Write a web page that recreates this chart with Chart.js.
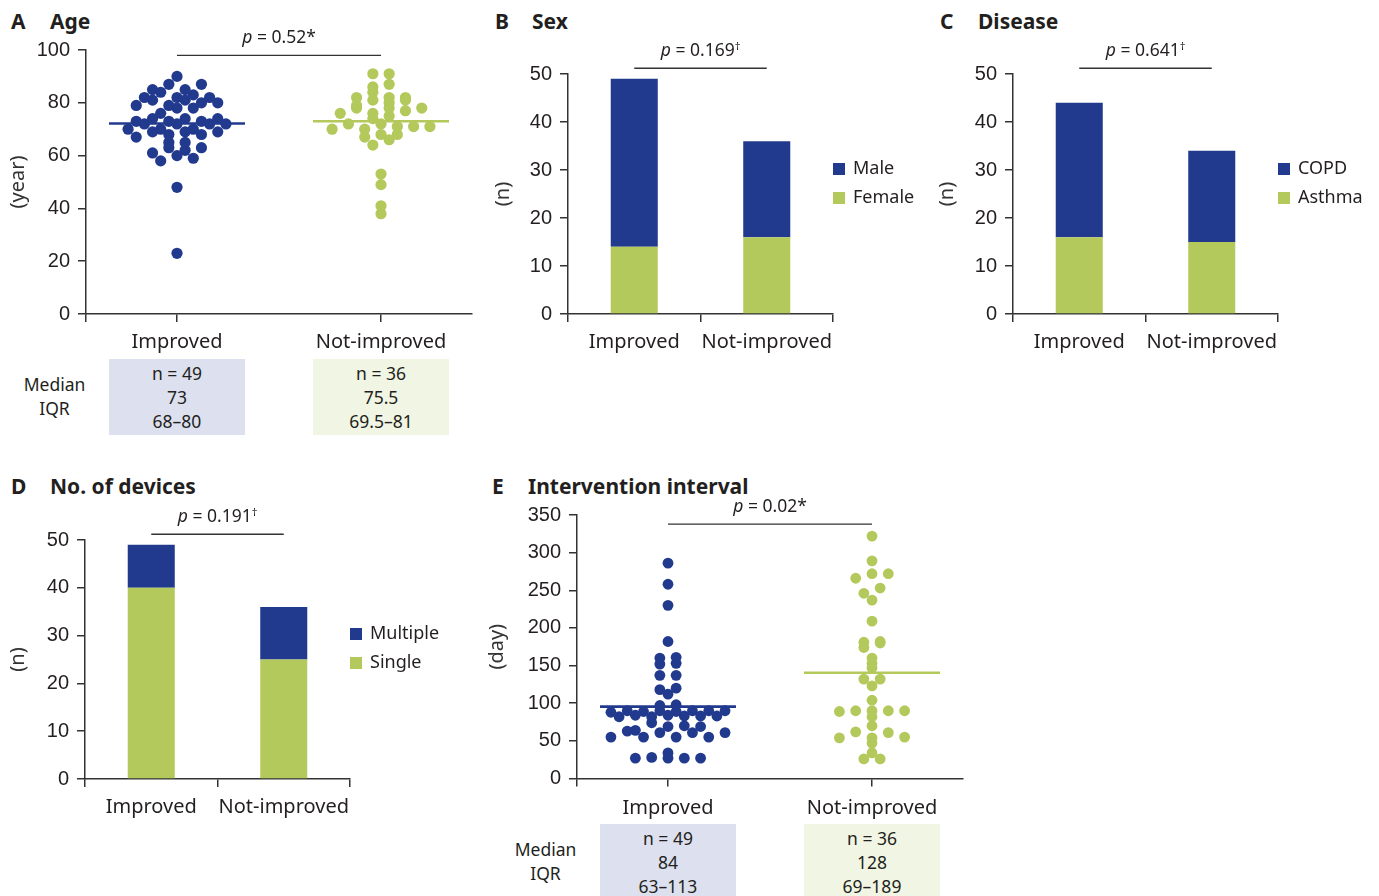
<!DOCTYPE html>
<html>
<head>
<meta charset="utf-8">
<script src="https://cdn.jsdelivr.net/npm/chart.js@4.4.1/dist/chart.umd.min.js"></script>
<style>
  html, body { margin: 0; padding: 0; background: #fff; }
  body { width: 1379px; height: 896px; overflow: hidden; position: relative; font-family: 'Noto Sans', sans-serif; color: #231f20; }
  canvas { position: absolute; }
  .title { position: absolute; font-weight: 700; font-size: 21px; line-height: 24px; white-space: nowrap; }
  .pval { position: absolute; font-size: 17.5px; line-height: 22px; white-space: nowrap; transform: translate(-50%, -50%); color: #231f20; }
  .pval sup { font-size: 11px; vertical-align: 6px; line-height: 0; }
  .legend { position: absolute; font-size: 18px; line-height: 29px; white-space: nowrap; }
  .legend .sw { display: inline-block; width: 12px; height: 12px; margin-right: 8px; vertical-align: -1px; }
  .box { position: absolute; text-align: center; font-size: 17.5px; line-height: 24px; padding-top: 2px; box-sizing: border-box; }
  .rowlab { position: absolute; text-align: center; font-size: 17.5px; line-height: 24px; transform: translateX(-50%); }
</style>
</head>
<body>

<div class="title" style="left:11px;top:9px">A</div><div class="title" style="left:50px;top:9px">Age</div>
<div class="title" style="left:495px;top:9px">B</div><div class="title" style="left:532px;top:9px">Sex</div>
<div class="title" style="left:940px;top:9px">C</div><div class="title" style="left:978px;top:9px">Disease</div>
<div class="title" style="left:11px;top:474px">D</div><div class="title" style="left:50px;top:474px">No. of devices</div>
<div class="title" style="left:492px;top:474px">E</div><div class="title" style="left:528px;top:474px">Intervention interval</div>

<canvas id="cA" width="490" height="330" style="left:0;top:30px"></canvas>
<canvas id="cB" width="470" height="330" style="left:480px;top:30px"></canvas>
<canvas id="cC" width="454" height="330" style="left:925px;top:30px"></canvas>
<canvas id="cD" width="470" height="330" style="left:0;top:495px"></canvas>
<canvas id="cE" width="500" height="330" style="left:480px;top:495px"></canvas>

<script>
// ---- data ----
const groupLabels = ['Improved', 'Not-improved'];

// Age (years), one value per patient
const ageImproved = [85, 81, 73, 69, 63, 78, 83, 80, 73, 70, 68, 62, 76, 90, 82, 79, 72, 69, 65, 60,
  74, 87, 79, 72, 65, 58, 48, 23, 82, 74, 70, 87, 80, 72, 67, 59, 84, 74, 70, 81, 72, 68, 61,
  85, 78, 82, 73, 69, 63];
const ageNotImproved = [91, 91, 87, 86, 84, 81, 82, 82, 82, 81, 80, 78, 78, 79, 77, 76, 76, 78,
  74, 75, 72, 71, 71, 71, 72, 70, 70, 68, 67, 68, 66, 64, 53, 49, 41, 38];

// Intervention interval (days), one value per patient
const intervalImproved = [286, 258, 230, 182, 161, 152, 160, 153, 137, 137, 118, 120, 112, 98, 97,
  90, 89, 90, 88, 90, 89, 90, 90, 83, 84, 82, 83, 84, 83, 82,
  70, 61, 69, 55, 64, 55, 55, 63, 55, 69, 61, 74, 61, 28, 27, 27, 27, 27, 34];
const intervalNotImproved = [322, 289, 272, 272, 266, 253, 246, 237, 209, 182, 181, 180, 174, 160,
  153, 147, 132, 132, 123, 104, 90, 90, 89, 90, 90, 82, 70, 62, 54, 54, 55, 61, 47, 34, 26, 26];

// Counts per group [Improved, Not-improved]
const sexMale = [35, 20];
const sexFemale = [14, 16];
const diseaseCOPD = [28, 19];
const diseaseAsthma = [16, 15];
const devicesMultiple = [9, 11];
const devicesSingle = [40, 25];

// Axis ticks
const ageTicks = [0, 20, 40, 60, 80, 100];
const countTicks = [0, 10, 20, 30, 40, 50];
const intervalTicks = [0, 50, 100, 150, 200, 250, 300, 350];

// Summary tables
const ageN = ['n = 49', 'n = 36'];
const ageMedian = ['73', '75.5'];
const ageIQR = ['68–80', '69.5–81'];
const intervalN = ['n = 49', 'n = 36'];
const intervalMedian = ['84', '128'];
const intervalIQR = ['63–113', '69–189'];

// p-values
const pAge = ['0.52', '*'];
const pSex = ['0.169', '†'];
const pDisease = ['0.641', '†'];
const pDevices = ['0.191', '†'];
const pInterval = ['0.02', '*'];

// ---- styling ----
const BLUE = '#223a8e';
const GREEN = '#b4c95c';
const INK = '#231f20';
const AXIS = '#333333';
const TICK_FONT = "'Liberation Sans', Arial, sans-serif";

const bracketPlugin = {
  id: 'bracket',
  afterDatasetsDraw(chart, args, opts) {
    const { ctx, scales: { x, y } } = chart;
    const x0 = x.getPixelForValue(opts.from);
    const x1 = x.getPixelForValue(opts.to);
    const yy = y.getPixelForValue(opts.at);
    ctx.save();
    ctx.strokeStyle = AXIS;
    ctx.lineWidth = 1.3;
    ctx.beginPath();
    ctx.moveTo(x0, yy);
    ctx.lineTo(x1, yy);
    ctx.stroke();
    ctx.restore();
  }
};

function yAxis(ticks, title, titlePad, width) {
  return {
    min: ticks[0], max: ticks[ticks.length - 1],
    afterBuildTicks: a => { a.ticks = ticks.map(v => ({ value: v })); },
    afterFit: a => { a.width = width; },
    border: { color: AXIS, width: 1.5 },
    grid: { drawOnChartArea: false, drawTicks: true, tickLength: 8, lineWidth: 1.5, color: AXIS },
    ticks: { color: INK, font: { family: TICK_FONT, size: 20 }, padding: 8 },
    title: { display: true, text: title, color: '#333', font: { family: 'Noto Sans', size: 20 }, padding: { top: titlePad, bottom: 0 } }
  };
}

function xLabelTicks(pad) {
  return { color: INK, font: { family: 'Noto Sans', size: 20 }, padding: pad, maxRotation: 0, autoSkip: false };
}

function baseOptions(padding) {
  return {
    responsive: false, animation: false, devicePixelRatio: 1,
    layout: { padding },
    plugins: { legend: { display: false }, tooltip: { enabled: false } },
    events: []
  };
}

function pLabel(chart, canvasLeft, canvasTop, p) {
  const o = chart.options.plugins.bracket;
  const { x, y } = chart.scales;
  const cx = (x.getPixelForValue(o.from) + x.getPixelForValue(o.to)) / 2 + canvasLeft;
  const cy = y.getPixelForValue(o.at) + canvasTop - 19.5;
  const d = document.createElement('div');
  d.className = 'pval';
  d.style.left = cx + 'px';
  d.style.top = cy + 'px';
  const mark = p[1] === '†' ? '<sup>†</sup>' : p[1];
  d.innerHTML = '<i>p</i> = ' + p[0] + mark;
  document.body.appendChild(d);
}

// ---- stacked bar panels ----
function barPanel(id, left, top, yWidth, padding, titlePad, bottomSet, topSet, legendNames, p) {
  const chart = new Chart(document.getElementById(id), {
    type: 'bar',
    data: {
      labels: groupLabels,
      datasets: [
        { label: legendNames[1], data: bottomSet, backgroundColor: GREEN, borderWidth: 0, barPercentage: 0.355, categoryPercentage: 1 },
        { label: legendNames[0], data: topSet, backgroundColor: BLUE, borderWidth: 0, barPercentage: 0.355, categoryPercentage: 1 }
      ]
    },
    options: Object.assign(baseOptions(padding), {
      scales: {
        x: {
          stacked: true, offset: true,
          afterFit: a => { a.height = 46; },
          border: { color: AXIS, width: 1.5 },
          grid: { offset: true, drawOnChartArea: false, tickLength: 8, lineWidth: 1.5, color: AXIS },
          ticks: xLabelTicks(8)
        },
        y: Object.assign(yAxis(countTicks, '(n)', titlePad, yWidth), { stacked: true })
      },
      plugins: { legend: { display: false }, tooltip: { enabled: false }, bracket: { from: 0, to: 1, at: 51.2 } }
    }),
    plugins: [bracketPlugin]
  });
  pLabel(chart, left, top, p);

  // legend beside the axis end
  const area = chart.chartArea;
  const lg = document.createElement('div');
  lg.className = 'legend';
  lg.style.left = (area.right + left) + 'px';
  lg.style.top = ((area.top + area.bottom) / 2 - 12.5 - 29 + top) + 'px';
  const ds = chart.data.datasets;
  lg.innerHTML = [ds[1], ds[0]].map(d =>
    '<div><span class="sw" style="background:' + d.backgroundColor + '"></span>' + d.label + '</div>').join('');
  document.body.appendChild(lg);
  return chart;
}

barPanel('cB', 480, 30, 88, { left: 0, top: 44, right: 117, bottom: 0 }, 11, sexFemale, sexMale, ['Male', 'Female'], pSex);
barPanel('cC', 925, 30, 88, { left: 0, top: 44, right: 101, bottom: 0 }, 10, diseaseAsthma, diseaseCOPD, ['COPD', 'Asthma'], pDisease);
barPanel('cD', 0, 495, 85, { left: 0, top: 45, right: 120, bottom: 0 }, 6, devicesSingle, devicesMultiple, ['Multiple', 'Single'], pDevices);

// ---- dot-plot panels ----
const mean = a => a.reduce((s, v) => s + v, 0) / a.length;

// Lay out dots in rows: values within one row height share a row and spread sideways.
function swarm(values, group, chart, rowPx, colPx) {
  const xs = chart.scales.x, ys = chart.scales.y;
  const unitX = xs.getPixelForValue(1) - xs.getPixelForValue(0);
  const unitY = Math.abs(ys.getPixelForValue(0) - ys.getPixelForValue(1));
  const rowH = rowPx / unitY;
  const rows = new Map();
  values.slice().sort((a, b) => a - b).forEach(v => {
    const k = Math.floor(v / rowH);
    if (!rows.has(k)) rows.set(k, []);
    rows.get(k).push(v);
  });
  const pts = [];
  rows.forEach(list => {
    const n = list.length;
    const order = [];
    let lo = 0, hi = n - 1;
    while (lo <= hi) { order.push(list[lo++]); if (lo <= hi) order.push(list[hi--]); }
    order.forEach((v, i) => pts.push({ x: group + (i - (n - 1) / 2) * colPx / unitX, y: v }));
  });
  return pts;
}

function dotPanel(id, left, top, yWidth, padding, titlePad, ticks, yTitle, sets, radius, bracketAt, p, tableRows, tableTop, plotH, labelPad) {
  const xMin = 0.554, xMax = 2.446;
  const chart = new Chart(document.getElementById(id), {
    type: 'scatter',
    data: {
      datasets: [
        { data: [], backgroundColor: BLUE, pointRadius: radius, pointHoverRadius: radius, borderWidth: 0, order: 2 },
        { data: [], backgroundColor: GREEN, pointRadius: radius, pointHoverRadius: radius, borderWidth: 0, order: 2 },
        { data: [{ x: 1 - 1 / 3, y: mean(sets[0]) }, { x: 1 + 1 / 3, y: mean(sets[0]) }], showLine: true, borderColor: BLUE, borderWidth: 2.6, pointRadius: 0, order: 1 },
        { data: [{ x: 2 - 1 / 3, y: mean(sets[1]) }, { x: 2 + 1 / 3, y: mean(sets[1]) }], showLine: true, borderColor: GREEN, borderWidth: 2.6, pointRadius: 0, order: 1 }
      ]
    },
    options: Object.assign(baseOptions(padding), {
      scales: {
        x: {
          type: 'linear', min: xMin, max: xMax,
          afterBuildTicks: a => { a.ticks = [{ value: xMin }, { value: 1 }, { value: 2 }]; },
          afterFit: a => { a.height = 330 - padding.top - plotH; },
          border: { color: AXIS, width: 1.5 },
          grid: { drawOnChartArea: false, tickLength: 8, lineWidth: 1.5, color: AXIS },
          ticks: Object.assign(xLabelTicks(labelPad), { callback: v => (v === 1 ? groupLabels[0] : v === 2 ? groupLabels[1] : '') })
        },
        y: yAxis(ticks, yTitle, titlePad, yWidth)
      },
      plugins: { legend: { display: false }, tooltip: { enabled: false }, bracket: { from: 1, to: 2, at: bracketAt } }
    }),
    plugins: [bracketPlugin]
  });
  chart.data.datasets[0].data = swarm(sets[0], 1, chart, 8, 16.3);
  chart.data.datasets[1].data = swarm(sets[1], 2, chart, 8, 16.3);
  chart.update('none');
  pLabel(chart, left, top, p);

  // summary table under each group
  const xs = chart.scales.x;
  const colors = ['#dde0ee', '#f1f5e3'];
  [1, 2].forEach((g, i) => {
    const l = xs.getPixelForValue(g - 1 / 3) + left;
    const r = xs.getPixelForValue(g + 1 / 3) + left;
    const b = document.createElement('div');
    b.className = 'box';
    b.style.left = l + 'px';
    b.style.top = tableTop + 'px';
    b.style.width = (r - l) + 'px';
    b.style.height = '76px';
    b.style.background = colors[i];
    b.innerHTML = tableRows.map(rw => '<div>' + rw[i] + '</div>').join('');
    document.body.appendChild(b);
  });
  const lab = document.createElement('div');
  lab.className = 'rowlab';
  lab.style.left = (xs.getPixelForValue(xMin) + left - 31.5) + 'px';
  lab.style.top = (tableTop + 13) + 'px';
  lab.innerHTML = '<div>Median</div><div>IQR</div>';
  document.body.appendChild(lab);
  return chart;
}

dotPanel('cA', 0, 30, 86, { left: 0, top: 19, right: 18, bottom: 0 }, 6, ageTicks, '(year)',
  [ageImproved, ageNotImproved], 5.6, 98, pAge, [ageN, ageMedian, ageIQR], 359, 265, 8);
dotPanel('cE', 480, 495, 97, { left: 0, top: 20, right: 17, bottom: 0 }, 5, intervalTicks, '(day)',
  [intervalImproved, intervalNotImproved], 5.4, 338, pInterval, [intervalN, intervalMedian, intervalIQR], 824, 263.5, 10);
</script>
</body>
</html>
